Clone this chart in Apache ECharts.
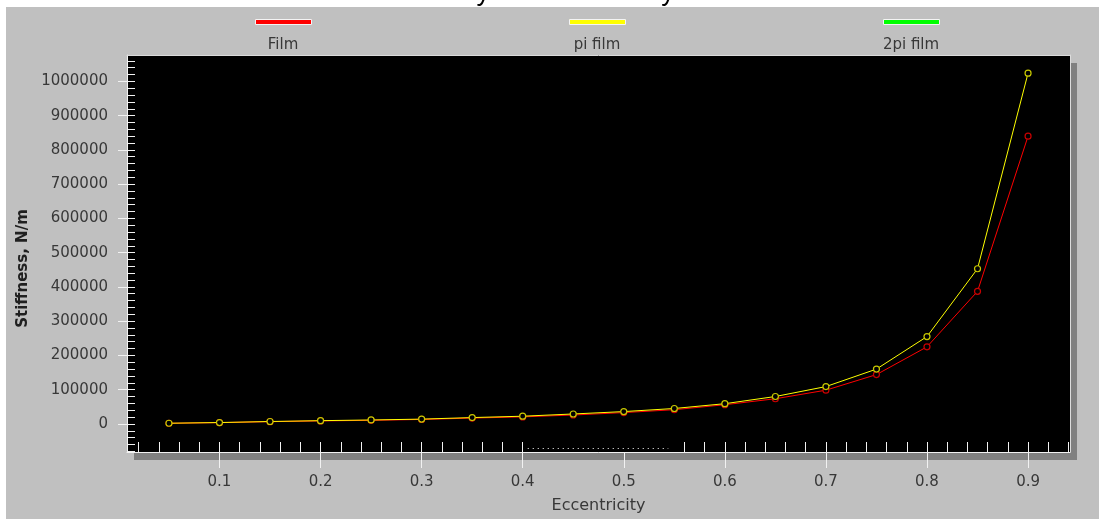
<!DOCTYPE html>
<html>
<head>
<meta charset="utf-8">
<script src="https://cdn.jsdelivr.net/npm/echarts@6/dist/echarts.min.js"></script>
<style>
  html, body { margin: 0; padding: 0; background: #ffffff; }
  #frame { position: absolute; left: 6px; top: 7px; width: 1093px; height: 512px; background: #c0c0c0; }
  #chart { position: absolute; left: 0; top: 0; width: 1099px; height: 519px; }
</style>
</head>
<body>
<div id="frame"></div>
<div id="chart"></div>
<script>
// Film stiffness versus journal eccentricity
const eccentricity = [0.05, 0.10, 0.15, 0.20, 0.25, 0.30, 0.35, 0.40, 0.45,
                      0.50, 0.55, 0.60, 0.65, 0.70, 0.75, 0.80, 0.85, 0.90];
const filmStiffness = [1800, 3700, 6500, 8700, 10500, 13000, 17000, 20500, 26000,
                       33000, 41500, 56000, 73500, 98500, 144000, 225000, 387000, 840000];
const piFilmStiffness = [2000, 4000, 7000, 9500, 11500, 14000, 18500, 22500, 29000,
                         36000, 45000, 59000, 80000, 109000, 160000, 255000, 453000, 1024000];
const twoPiFilmStiffness = [];

const seriesNames = ['Film', 'pi film', '2pi film'];
const seriesColors = ['#ff0000', '#ffff00', '#00ff00'];
const markerColors = ['#c80000', '#c8c800', '#00c800'];

const xTickLabels = [0.1, 0.2, 0.3, 0.4, 0.5, 0.6, 0.7, 0.8, 0.9];
const yTickLabels = [0, 100000, 200000, 300000, 400000, 500000,
                     600000, 700000, 800000, 900000, 1000000];

const X_MIN = 0.0085, X_MAX = 0.9415;
const Y_MIN = -82000, Y_MAX = 1077000;

// minor ticks: every 0.02 along x (a gap where the dotted marker sits), every 20000 along y
const xMinorTicks = [];
for (let k = 1; k <= 47; k++) {
  const v = +(k * 0.02).toFixed(2);
  if (v > X_MAX) break;
  if (v > 0.41 && v < 0.55) continue;
  xMinorTicks.push(v);
}
const yMinorTicks = [];
for (let v = -80000; v <= Y_MAX; v += 20000) yMinorTicks.push(v);

const labelFont = 'DejaVu Sans';
const textColor = '#383838';
const tickColor = '#f2f2f2';
const frameColor = '#dcdcdc';

const seriesData = [filmStiffness, piFilmStiffness, twoPiFilmStiffness];
const legendCenters = [283, 597, 911];

const chart = echarts.init(document.getElementById('chart'), null, { renderer: 'canvas' });

const series = seriesNames.map((name, i) => ({
  name: name,
  type: 'line',
  xAxisIndex: 0,
  yAxisIndex: 0,
  data: seriesData[i].map((v, j) => [eccentricity[j], v]),
  symbol: 'circle',
  symbolSize: 6,
  showSymbol: true,
  lineStyle: { color: seriesColors[i], width: 1 },
  itemStyle: { color: '#000000', borderColor: markerColors[i], borderWidth: 1.2 },
  emphasis: { disabled: true },
  z: 2 + i
}));

// dotted scroll marker along the lower edge of the plot
series[0].markLine = {
  silent: true,
  symbol: 'none',
  label: { show: false },
  lineStyle: { color: '#ffffff', type: [1, 4], width: 1 },
  data: [[{ coord: [0.405, -69600] }, { coord: [0.544, -69600] }]]
};

const plainAxis = { show: true, onZero: false, lineStyle: { color: frameColor, width: 1 } };

const option = {
  animation: false,
  backgroundColor: 'transparent',
  title: {
    text: 'Film with Reynolds boundary conditions',
    left: 328,
    top: -21,
    padding: 0,
    textStyle: { fontFamily: 'Liberation Sans', fontSize: 27, fontWeight: 'normal', color: '#000000' }
  },
  legend: seriesNames.map((name, i) => ({
    data: [{
      name: name,
      icon: 'rect',
      itemStyle: { color: seriesColors[i], borderColor: '#f4f4f4', borderWidth: 1 }
    }],
    left: legendCenters[i] - 28,
    top: 19,
    padding: 0,
    itemWidth: 56,
    itemHeight: 5,
    selectedMode: false,
    formatter: () => '',
    textStyle: { fontSize: 1 }
  })),
  graphic: seriesNames.map((name, i) => ({
    type: 'text',
    x: legendCenters[i],
    y: 45,
    silent: true,
    style: {
      text: name,
      textAlign: 'center',
      textVerticalAlign: 'middle',
      fill: textColor,
      font: '15px "' + labelFont + '"'
    }
  })),
  grid: {
    left: 127,
    right: 29,
    top: 55,
    bottom: 64,
    show: true,
    backgroundColor: '#000000',
    borderWidth: 0,
    shadowColor: '#808080',
    shadowBlur: 0,
    shadowOffsetX: 7,
    shadowOffsetY: 8
  },
  xAxis: [
    {
      type: 'value',
      min: X_MIN,
      max: X_MAX,
      position: 'bottom',
      name: 'Eccentricity',
      nameLocation: 'middle',
      nameGap: 46,
      nameTextStyle: { fontFamily: labelFont, fontSize: 16, color: textColor },
      axisLine: { show: true, onZero: false, lineStyle: { color: tickColor, width: 1 } },
      axisTick: { show: true, inside: false, length: 16, customValues: xTickLabels,
                  lineStyle: { color: tickColor, width: 1 } },
      axisLabel: { show: true, margin: 23, customValues: xTickLabels,
                   formatter: v => v.toFixed(1),
                   fontFamily: labelFont, fontSize: 15, color: textColor },
      splitLine: { show: false }
    },
    {
      type: 'value',
      min: X_MIN,
      max: X_MAX,
      position: 'bottom',
      offset: 0,
      axisLine: { show: false, onZero: false },
      axisTick: { show: true, inside: true, length: 10, customValues: xMinorTicks,
                  lineStyle: { color: tickColor, width: 1 } },
      axisLabel: { show: false },
      splitLine: { show: false }
    },
    {
      // upper frame edge of the plot
      type: 'value',
      min: X_MIN,
      max: X_MAX,
      position: 'top',
      axisLine: plainAxis,
      axisTick: { show: false },
      axisLabel: { show: false },
      splitLine: { show: false }
    }
  ],
  yAxis: [
    {
      type: 'value',
      min: Y_MIN,
      max: Y_MAX,
      position: 'left',
      name: 'Stiffness, N/m',
      nameLocation: 'middle',
      nameGap: 90,
      nameRotate: 90,
      nameTextStyle: { fontFamily: labelFont, fontSize: 15, fontWeight: 'bold', color: '#202020',
                       padding: [0, 30, 0, 0] },
      axisLine: { show: true, onZero: false, lineStyle: { color: tickColor, width: 1 } },
      axisTick: { show: true, inside: false, length: 9, customValues: yTickLabels,
                  lineStyle: { color: tickColor, width: 1 } },
      axisLabel: { show: true, margin: 19, customValues: yTickLabels,
                   formatter: v => String(v),
                   fontFamily: labelFont, fontSize: 15, color: textColor },
      splitLine: { show: false }
    },
    {
      type: 'value',
      min: Y_MIN,
      max: Y_MAX,
      position: 'left',
      offset: 0,
      axisLine: { show: false, onZero: false },
      axisTick: { show: true, inside: true, length: 8, customValues: yMinorTicks,
                  lineStyle: { color: tickColor, width: 1 } },
      axisLabel: { show: false },
      splitLine: { show: false }
    },
    {
      // right frame edge of the plot
      type: 'value',
      min: Y_MIN,
      max: Y_MAX,
      position: 'right',
      offset: 0,
      axisLine: plainAxis,
      axisTick: { show: false },
      axisLabel: { show: false },
      splitLine: { show: false }
    }
  ],
  series: series
};

chart.setOption(option);
</script>
</body>
</html>
